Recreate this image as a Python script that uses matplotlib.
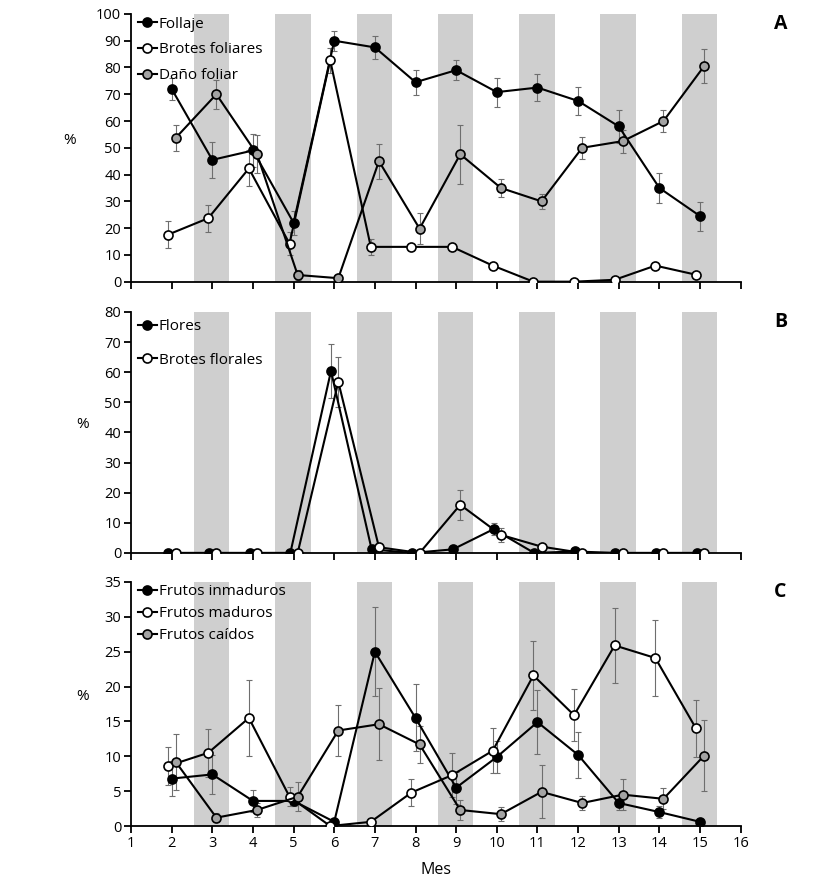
import numpy as np
import matplotlib
matplotlib.use('Agg')
import matplotlib.pyplot as plt

plt.rcParams['font.family'] = ['Open Sans', 'DejaVu Sans']

# Meses con datos
meses = np.arange(2, 16)
bandas = [3, 5, 7, 9, 11, 13, 15]  # meses sombreados

# Panel A
follaje = [72, 45.5, 49, 22, 90, 87.5, 74.5, 79, 70.8, 72.5, 67.5, 58, 35, 24.5]
follaje_err = [4, 6.7, 6, 4.5, 3.7, 4.3, 4.6, 3.8, 5.4, 4.9, 5.3, 6.2, 5.5, 5.4]
brotes_fol = [17.5, 23.7, 42.3, 14.2, 82.7, 13, 13, 13, 6, 0, 0, 0.7, 6, 2.6]
brotes_fol_err = [5, 5, 6.7, 4.4, 4.6, 3, 0.8, 1.5, 0.8, 0, 0, 0, 0.8, 0.5]
dano = [53.7, 70, 47.6, 2.5, 1.3, 45, 19.8, 47.6, 35, 30, 50, 52.5, 60, 80.5]
dano_err = [5, 5.5, 7, 2, 0, 6.6, 5.9, 11, 3.2, 2.8, 4, 4.3, 4, 6.3]

# Panel B
flores = [0, 0, 0, 0, 60.4, 1.2, 0, 1.2, 7.9, 0, 0.5, 0, 0, 0]
flores_err = [0, 0, 0, 0, 9, 0.5, 0, 0.5, 2, 0, 0, 0, 0, 0]
brotes_flo = [0, 0, 0, 0, 56.8, 1.9, 0, 16, 6, 2.1, 0, 0, 0, 0]
brotes_flo_err = [0, 0, 0, 0, 8.4, 0.5, 0, 5, 2.2, 1, 0, 0, 0, 0]

# Panel C
inmaduros = [6.8, 7.4, 3.6, 3.6, 0.6, 25, 15.5, 5.5, 9.9, 14.9, 10.2, 3.3, 2.0, 0.6]
inmaduros_err = [2.5, 2.8, 1.6, 0.8, 0, 6.4, 4.8, 2.3, 2.3, 4.6, 3.3, 1, 0.9, 0]
maduros = [8.6, 10.5, 15.5, 4.2, 0, 0.6, 4.8, 7.3, 10.8, 21.6, 15.9, 25.9, 24.1, 14.0]
maduros_err = [2.7, 3.4, 5.4, 1.4, 0, 0.5, 1.9, 3.2, 3.2, 5, 3.7, 5.4, 5.5, 4.1]
caidos = [9.2, 1.2, 2.3, 4.2, 13.7, 14.6, 11.7, 2.3, 1.7, 4.9, 3.3, 4.5, 3.9, 10.1]
caidos_err = [4, 0.6, 1, 2.1, 3.6, 5.2, 2.7, 1.5, 1, 3.8, 1, 2.2, 1.5, 5.1]

GRIS = '#a3a3a3'


def serie(ax, dx, y, err, relleno, etiqueta):
    x = meses + dx
    ax.errorbar(x, y, yerr=err, fmt='none', ecolor='#6e6e6e', elinewidth=0.8,
                capsize=2, capthick=0.8, zorder=2)
    ax.plot(x, y, '-o', color='black', lw=1.5, ms=6.5, mfc=relleno,
            mec='black', mew=1.2, label=etiqueta, zorder=3)


def preparar(ax, ymax, paso, letra, esp, ancla):
    for b in bandas:
        ax.axvspan(b - 0.45, b + 0.42, color='#cfcfcf', lw=0, zorder=0)
    ax.set_xlim(1, 16)
    ax.set_ylim(0, ymax)
    ax.set_xticks(range(1, 17))
    ax.set_yticks(np.arange(0, ymax + 1, paso))
    ax.spines['top'].set_visible(False)
    ax.spines['right'].set_visible(False)
    ax.spines['left'].set_linewidth(1.3)
    ax.spines['bottom'].set_linewidth(1.3)
    ax.tick_params(direction='out', length=5, width=1.3, labelsize=10.5, pad=2)
    ax.text(1.065, 1.0, letra, transform=ax.transAxes, fontsize=14,
            fontweight='bold', va='top', ha='center')
    ax.legend(loc='upper left', bbox_to_anchor=ancla, frameon=False,
              fontsize=11, handlelength=1.2, handletextpad=0.15,
              labelspacing=esp, borderaxespad=0, borderpad=0)


fig = plt.figure(figsize=(8.25, 8.88), dpi=100)
axA = fig.add_axes([0.1588, 0.6828, 0.739, 0.3015])
axB = fig.add_axes([0.1588, 0.3773, 0.739, 0.2714])
axC = fig.add_axes([0.1588, 0.0698, 0.739, 0.2748])

serie(axA, 0.0, follaje, follaje_err, 'black', 'Follaje')
serie(axA, -0.1, brotes_fol, brotes_fol_err, 'white', 'Brotes foliares')
serie(axA, 0.1, dano, dano_err, GRIS, 'Daño foliar')
preparar(axA, 100, 10, 'A', 0.7, (0.012, 0.99))
axA.tick_params(axis='x', labelbottom=False)
axA.set_ylabel('%', rotation=0, fontsize=11)
axA.yaxis.set_label_coords(-0.1, 0.5)

serie(axB, -0.08, flores, flores_err, 'black', 'Flores')
serie(axB, 0.1, brotes_flo, brotes_flo_err, 'white', 'Brotes florales')
preparar(axB, 80, 10, 'B', 1.2, (0.012, 0.97))
axB.tick_params(axis='x', labelbottom=False)
axB.set_ylabel('%', rotation=0, fontsize=11)
axB.yaxis.set_label_coords(-0.08, 0.5)

serie(axC, 0.0, inmaduros, inmaduros_err, 'black', 'Frutos inmaduros')
serie(axC, -0.1, maduros, maduros_err, 'white', 'Frutos maduros')
serie(axC, 0.1, caidos, caidos_err, GRIS, 'Frutos caídos')
preparar(axC, 35, 5, 'C', 0.45, (0.012, 0.99))
axC.set_ylabel('%', rotation=0, fontsize=11)
axC.yaxis.set_label_coords(-0.08, 0.5)
axC.set_xlabel('Mes', fontsize=11.5, labelpad=8)

fig.savefig('out.png', dpi=100)
